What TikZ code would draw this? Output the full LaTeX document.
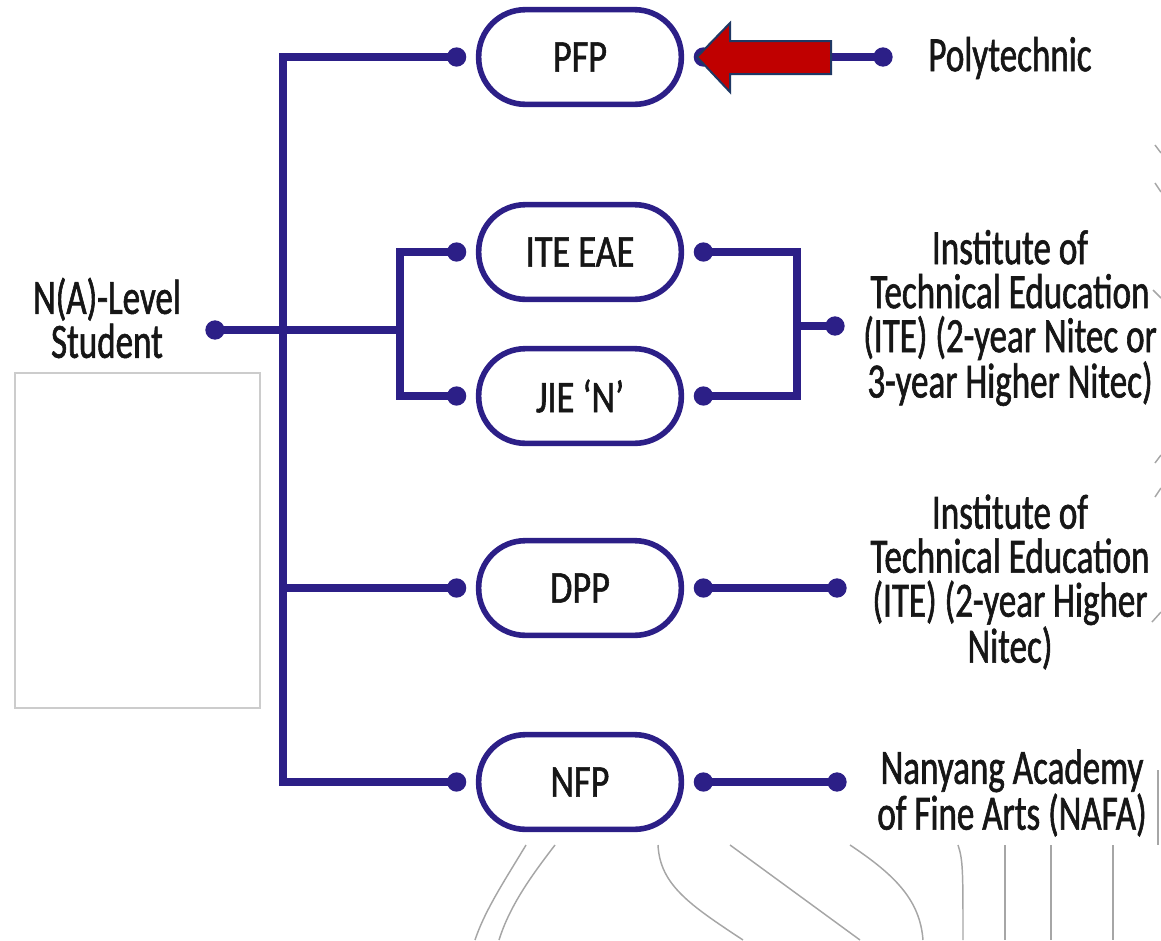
\documentclass[tikz,border=0pt]{standalone}
\usepackage{fontspec}
\setmainfont{Carlito}[FakeStretch=0.71, FakeBold=1.2]
\newfontfamily\pillfont{Carlito}[FakeStretch=0.8, FakeBold=1.2]
\usetikzlibrary{positioning}
\definecolor{navy}{RGB}{44,31,135}
\definecolor{arrowred}{RGB}{192,0,0}
\definecolor{arrowedge}{RGB}{31,56,100}
\definecolor{ink}{RGB}{22,22,22}

\begin{document}
\begin{tikzpicture}
  [x=0.75pt, y=-0.75pt,
    wire/.style={draw=navy, line width=6.3pt},
    pill/.style={
      draw=navy, line width=4.2pt, rounded corners=35pt,
      minimum width=152pt, minimum height=71pt, text=ink,
      font=\pillfont\fontsize{34}{34}\selectfont
    },
    dot/.style={circle, fill=navy, inner sep=0pt, minimum size=14.5pt},
    dest/.style={align=center, text=ink, font=\fontsize{37}{33}\selectfont},
    faint/.style={draw=gray!70, line width=1.1pt},
  ]
  \useasboundingbox (0,0) rectangle (1161,940);
  \clip (0,0) rectangle (1161,940);

  % Pathways
  \node[pill] (pfp) at (580,57)  {PFP};
  \node[pill] (ite) at (580,252) {ITE EAE};
  \node[pill] (jie) at (580,396) {JIE ‘N’};
  \node[pill] (dpp) at (580,588) {DPP};
  \node[pill] (nfp) at (580,782) {NFP};

  \foreach \p in {pfp,ite,jie,dpp,nfp} {
    \node[dot, left=7pt of \p] (\p L) {};
    \node[dot, right=7pt of \p] (\p R) {};
  }

  \node[dot] (stu) at (215,330) {};
  \node[dot] (poly) at (883,57) {};
  \node[dot] (merge) at (835,326) {};
  \node[dot] (dppEnd) at (837,588) {};
  \node[dot] (nfpEnd) at (837,782) {};

  \coordinate (tTop) at (283,57);
  \coordinate (tBot) at (283,782);
  \coordinate (subT) at (400,252);
  \coordinate (subB) at (400,396);
  \coordinate (mT) at (797,252);
  \coordinate (mB) at (797,396);

  % Branches
  \draw[wire] (pfpL.center) -- (tTop) -- (tBot) -- (nfpL.center);
  \draw[wire] (tBot |- dppL.center) -- (dppL.center);
  \draw[wire] (stu.center) -- (stu -| subT);
  \draw[wire] (iteL.center) -- (subT) -- (subB) -- (jieL.center);
  \draw[wire] (iteR.center) -- (mT) -- (mB) -- (jieR.center);
  \draw[wire] (mT |- merge.center) -- (merge.center);
  \draw[wire] (pfpR.center) -- (poly.center);
  \draw[wire] (dppR.center) -- (dppEnd.center);
  \draw[wire] (nfpR.center) -- (nfpEnd.center);

  % Red arrow
  \filldraw[fill=arrowred, draw=arrowedge, line width=1.5pt]
    (697,57) -- (730,23) -- (730,41) -- (831,41) -- (831,74)
    -- (730,74) -- (730,92) -- cycle;

  % Labels
  \node[dest] (student) at (107,318) {N(A)-Level\\Student};
  \node[dest] (polytech) at (1010,58) {Polytechnic};
  \node[dest] (iteinst) at (1010,318)
    {Institute of\\Technical Education\\(ITE) (2-year Nitec or\\3-year Higher Nitec)};
  \node[dest] (hnitec) at (1010,582)
    {Institute of\\Technical Education\\(ITE) (2-year Higher\\Nitec)};
  \node[dest] (nafa) at (1012,793) {Nanyang Academy\\of Fine Arts (NAFA)};

  % Background traces
  \draw[draw=gray!40, line width=0.9pt] (15,373) rectangle (260,708);
  \draw[faint] (526,845) .. controls (505,880) and (485,910) .. (475,940);
  \draw[faint] (555,845) .. controls (532,875) and (510,905) .. (499,940);
  \draw[faint] (658,845) .. controls (660,885) and (690,905) .. (743,940);
  \draw[faint] (730,845) -- (860,940);
  \draw[faint] (850,845) .. controls (895,875) and (920,900) .. (923,940);
  \draw[faint] (958,845) .. controls (963,860) and (963,870) .. (963,940);
  \foreach \x in {1005,1051,1113}
    \draw[faint] (\x,845) -- (\x,940);
  \draw[faint] (1158,770) -- (1158,845);
  \draw[faint] (1155,145) -- (1161,153);
  \draw[faint] (1155,183) -- (1161,192);
  \draw[faint] (1153,290) -- (1161,298);
  \draw[faint] (1155,463) -- (1161,455);
  \draw[faint] (1155,497) -- (1161,488);
  \draw[faint] (1152,622) -- (1161,612);
\end{tikzpicture}
\end{document}
